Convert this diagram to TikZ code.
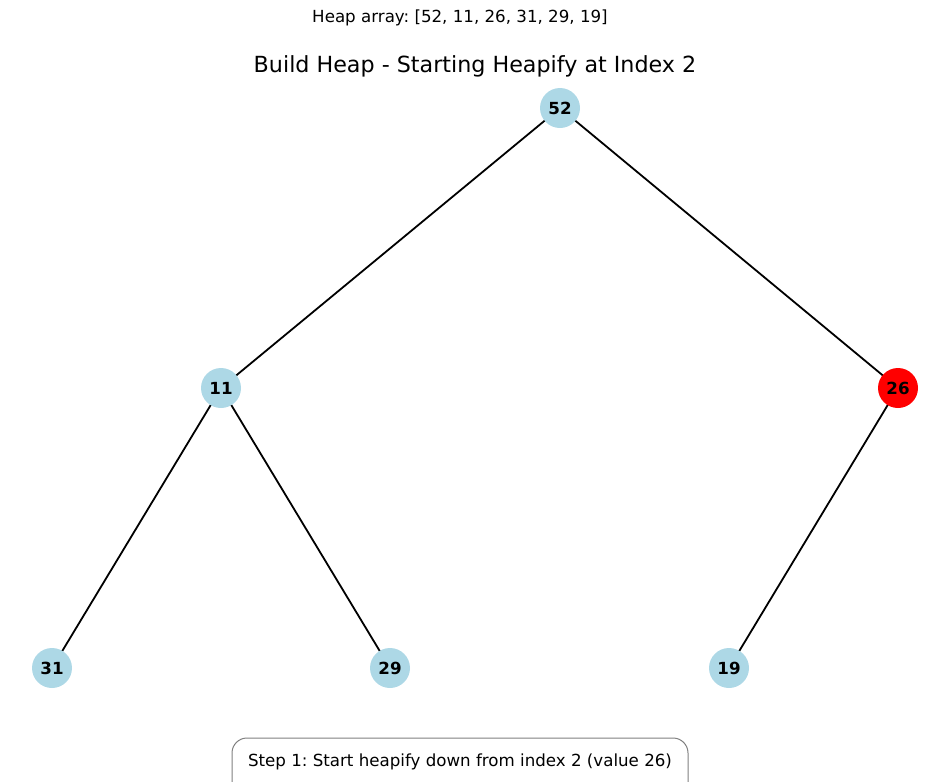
\documentclass[tikz,border=0pt]{standalone}
\usepackage{fontspec}
\setmainfont{DejaVu Sans}
\begin{document}
\frenchspacing
\begin{tikzpicture}[x=0.72pt,y=-0.72pt,
  heapnode/.style={circle,minimum size=40*0.72pt,inner sep=0pt,font=\fontsize{12}{14}\selectfont\bfseries},
  normal/.style={heapnode,fill=lightblue},
  active/.style={heapnode,fill=red},
  edge/.style={line width=1.8*0.72pt,black}]
\definecolor{lightblue}{HTML}{ADD8E6}
\useasboundingbox (0,0) rectangle (950,782);
\node[font=\fontsize{12}{14}\selectfont] (sup) at (460,18) {Heap array: [52, 11, 26, 31, 29, 19]};
\node[font=\fontsize{16}{19}\selectfont] (title) at (475,66) {Build Heap - Starting Heapify at Index 2};
\coordinate (p0) at (560,108);
\coordinate (p1) at (221,388);
\coordinate (p2) at (898,388);
\coordinate (p3) at (52,668);
\coordinate (p4) at (390,668);
\coordinate (p5) at (729,668);
\draw[edge] (p0) -- (p1);
\draw[edge] (p0) -- (p2);
\draw[edge] (p1) -- (p3);
\draw[edge] (p1) -- (p4);
\draw[edge] (p2) -- (p5);
\node[normal] (n0) at (p0) {52};
\node[normal] (n1) at (p1) {11};
\node[active] (n2) at (p2) {26};
\node[normal] (n3) at (p3) {31};
\node[normal] (n4) at (p4) {29};
\node[normal] (n5) at (p5) {19};
\draw[gray,line width=0.72pt,rounded corners=15*0.72pt] (232,800) rectangle (688,738);
\node[font=\fontsize{12}{14}\selectfont] (step) at (460,762) {Step 1: Start heapify down from index 2 (value 26)};
\end{tikzpicture}
\end{document}
